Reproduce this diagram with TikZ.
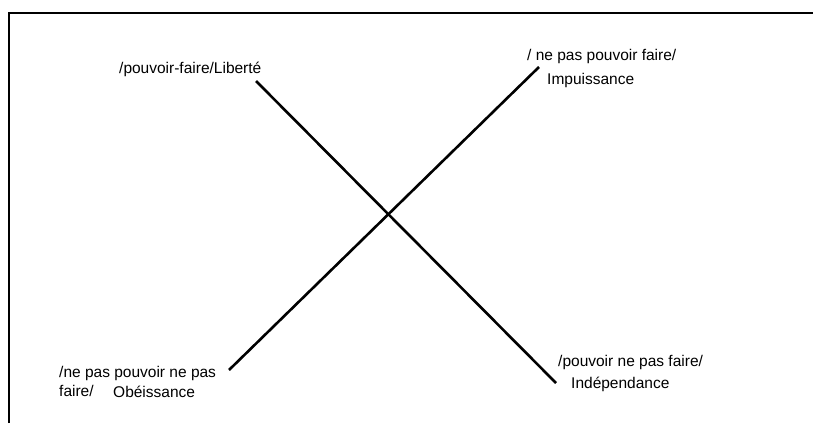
\documentclass[tikz,border=0pt]{standalone}
\usepackage{fontspec}
\setmainfont{Liberation Sans}
\begin{document}
\begin{tikzpicture}[x=1pt,y=-1pt,
  lbl/.style={anchor=base west,inner sep=0pt,font=\fontsize{15.5}{18}\selectfont},
  bar/.style={line width=2.6pt},
  frame/.style={line width=2.6pt}]
\useasboundingbox (0,0) rectangle (813,423);
\draw[frame] (9,423) -- (9,13) -- (813,13);
\node[lbl] (lib) at (119,73) {/pouvoir-faire/Liberté};
\node[lbl] (npf) at (527,60) {/ ne pas pouvoir faire/};
\node[lbl] (imp) at (547,84) {Impuissance};
\node[lbl] (npnp) at (59,377) {/ne pas pouvoir ne pas};
\node[lbl] (fai) at (59,396) {faire/};
\node[lbl] (obe) at (113,397) {Obéissance};
\node[lbl] (pnpf) at (558,366) {/pouvoir ne pas faire/};
\node[lbl] (ind) at (571,388) {Indépendance};
\coordinate (a1) at (256,81);
\coordinate (a2) at (556,383);
\coordinate (b1) at (229,370);
\coordinate (b2) at (539,67);
\draw[bar] (a1) -- (a2);
\draw[bar] (b1) -- (b2);
\end{tikzpicture}
\end{document}
